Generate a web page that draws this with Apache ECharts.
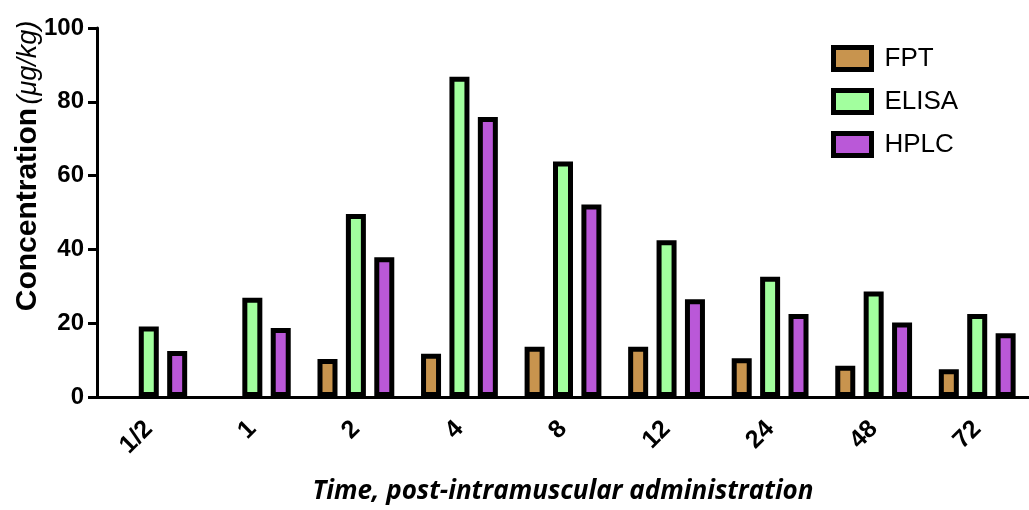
<!DOCTYPE html>
<html>
<head>
<meta charset="utf-8">
<script src="https://cdn.jsdelivr.net/npm/echarts@6/dist/echarts.min.js"></script>
<style>
  html, body { margin: 0; padding: 0; background: #fff; }
  #chart { width: 1029px; height: 510px; }
</style>
</head>
<body>
<div id="chart"></div>
<script>
// time points (h) post-intramuscular administration
const times = ['1/2', '1', '2', '4', '8', '12', '24', '48', '72']
const fpt = [null, null, 10.3, 11.7, 13.6, 13.6, 10.5, 8.5, 7.5]
const elisa = [19.1, 26.9, 49.6, 86.8, 63.8, 42.5, 32.6, 28.6, 22.5]
const hplc = [12.5, 18.7, 37.9, 75.9, 52.2, 26.5, 22.5, 20.2, 17.3]
const yTicks = [0, 20, 40, 60, 80, 100]

const colors = {FPT: '#c8944e', ELISA: '#a2ff9e', HPLC: '#ba58d8'}
const sans = '"Liberation Sans", Arial, sans-serif'

const chart = echarts.init(document.getElementById('chart'), null, {renderer: 'canvas'})

const makeSeries = (name, data) => ({
  name,
  type: 'bar',
  data,
  barWidth: 20,
  barGap: '42%',
  itemStyle: {color: colors[name], borderColor: '#000', borderWidth: 5},
})

chart.setOption({
  animation: false,
  backgroundColor: '#fff',
  grid: {left: 97, top: 28, bottom: 113, width: 940},
  legend: {
    orient: 'vertical',
    left: 826,
    top: 40,
    itemWidth: 38,
    itemHeight: 22,
    itemGap: 16,
    icon: 'rect',
    itemStyle: {borderColor: '#000', borderWidth: 5},
    textStyle: {fontFamily: sans, fontSize: 26, lineHeight: 22, color: '#000', padding: [0, 0, 0, 8]},
    data: ['FPT', 'ELISA', 'HPLC'],
  },
  xAxis: {
    type: 'category',
    data: times,
    name: 'Time, post-intramuscular administration',
    nameLocation: 'middle',
    nameGap: 82,
    nameTextStyle: {fontFamily: '"Open Sans", sans-serif', fontSize: 26, fontWeight: 'bold', fontStyle: 'italic', color: '#000'},
    axisLine: {lineStyle: {color: '#000', width: 3}},
    axisTick: {alignWithLabel: true, length: 10, lineStyle: {color: '#000', width: 3}},
    axisLabel: {rotate: 45, margin: 28, fontFamily: sans, fontWeight: 'bold', fontSize: 25, color: '#000'},
  },
  yAxis: {
    type: 'value',
    min: yTicks[0],
    max: yTicks[yTicks.length - 1],
    interval: 20,
    splitLine: {show: false},
    axisLine: {show: true, lineStyle: {color: '#000', width: 3}},
    axisTick: {show: true, length: 9, lineStyle: {color: '#000', width: 3}},
    axisLabel: {margin: 13, fontFamily: sans, fontWeight: 'bold', fontSize: 24, color: '#000'},
  },
  graphic: [{
    type: 'text',
    x: 28,
    y: 166,
    rotation: Math.PI / 2,
    style: {
      text: '{a|Concentration} {b|(μg/kg)}',
      align: 'center',
      verticalAlign: 'middle',
      rich: {
        a: {fontFamily: sans, fontWeight: 'bold', fontSize: 30, fill: '#000'},
        b: {fontFamily: sans, fontStyle: 'italic', fontSize: 27, fill: '#000'},
      },
    },
  }],
  series: [
    makeSeries('FPT', fpt),
    makeSeries('ELISA', elisa),
    makeSeries('HPLC', hplc),
  ],
})
</script>
</body>
</html>
